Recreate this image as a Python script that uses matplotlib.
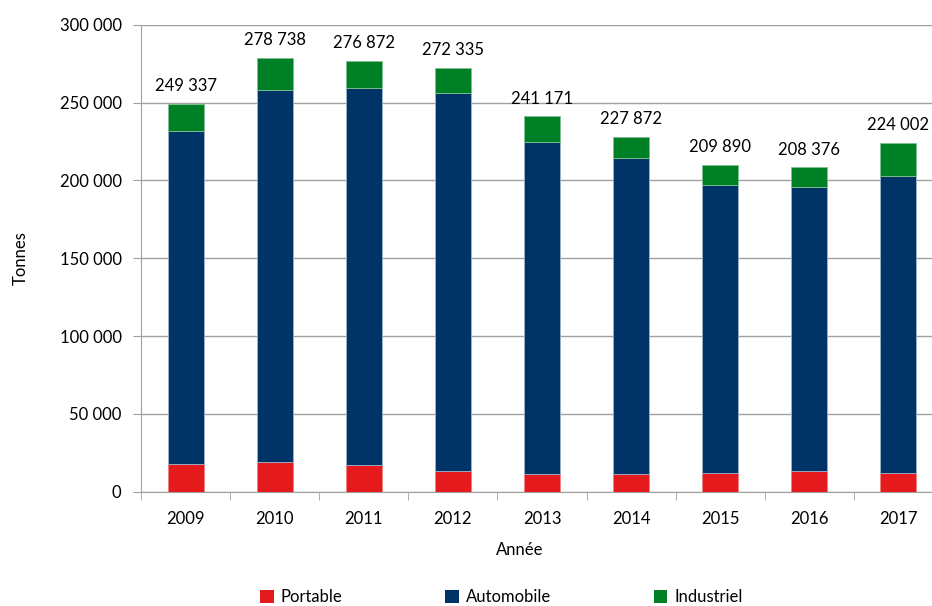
import matplotlib
matplotlib.use("Agg")
import matplotlib.pyplot as plt
import numpy as np
from matplotlib.ticker import FuncFormatter

years = ["2009", "2010", "2011", "2012", "2013", "2014", "2015", "2016", "2017"]
portable = [17600, 19100, 17000, 13100, 11600, 11600, 12200, 13100, 12200]
automobile = [214300, 239000, 242600, 242800, 213200, 202500, 184900, 182800, 190600]
industriel = [17437, 20638, 17272, 16435, 16371, 13772, 12790, 12476, 21202]
totals = [249337, 278738, 276872, 272335, 241171, 227872, 209890, 208376, 224002]

plt.rcParams['font.family'] = ['Lato', 'DejaVu Sans']

fig = plt.figure(figsize=(9.32, 6.06), dpi=100)
ax = fig.add_axes([141/932, 1-491.7/606, 802/932, 467/606])

x = np.arange(len(years))
w = 0.405
c_red, c_blue, c_green = "#e41a1c", "#003366", "#008026"
b1 = ax.bar(x, portable, w, color=c_red, edgecolor="#f08080", linewidth=0.6, label="Portable", zorder=3)
b2 = ax.bar(x, automobile, w, bottom=portable, color=c_blue, edgecolor="#9fb3c8", linewidth=0.6, label="Automobile", zorder=3)
bot2 = np.array(portable) + np.array(automobile)
b3 = ax.bar(x, industriel, w, bottom=bot2, color=c_green, edgecolor="#7fc08f", linewidth=0.6, label="Industriel", zorder=3)

def fmt(v):
    return f"{int(v):,}".replace(",", " ")

for xi, t in zip(x, totals):
    ax.annotate(fmt(t), (xi, t), xytext=(0, 7), textcoords="offset points",
                ha="center", va="bottom", fontsize=12, color="black")

ax.set_ylim(0, 300000)
ax.set_xlim(-0.5, len(years) - 0.5)
ax.set_yticks(np.arange(0, 300001, 50000))
ax.yaxis.set_major_formatter(FuncFormatter(lambda v, p: fmt(v)))
ax.yaxis.grid(True, color="#a0a0a0", linewidth=1, zorder=0)
ax.set_axisbelow(True)
ax.set_xticks(x)
ax.set_xticklabels(years)
ax.tick_params(axis="x", length=0, pad=14, labelsize=12)
ax.set_xticks(np.arange(-0.5, len(years), 1), minor=True)
ax.tick_params(axis="x", which="minor", length=6, color="#a0a0a0", direction="out")
ax.tick_params(axis="y", length=6, color="#a0a0a0", labelsize=12, pad=8)

for s in ["top", "right"]:
    ax.spines[s].set_visible(False)
ax.spines["left"].set_color("#a0a0a0")
ax.spines["bottom"].set_color("#a0a0a0")

ax.set_ylabel("Tonnes", fontsize=12, labelpad=22)
ax.set_xlabel("Année", fontsize=12, labelpad=10)
ax.xaxis.set_label_coords((520-141)/802, -(542-491.7)/467)

leg = fig.legend(handles=[b1, b2, b3], labels=["Portable", "Automobile", "Industriel"],
                 loc="center", bbox_to_anchor=(0.538, 1-597/606), ncol=3, frameon=False,
                 fontsize=12, handlelength=0.8, handleheight=0.8, columnspacing=6.2, handletextpad=0.4)
for h in leg.legend_handles:
    h.set_edgecolor("none")

fig.savefig("out.png", dpi=100)
